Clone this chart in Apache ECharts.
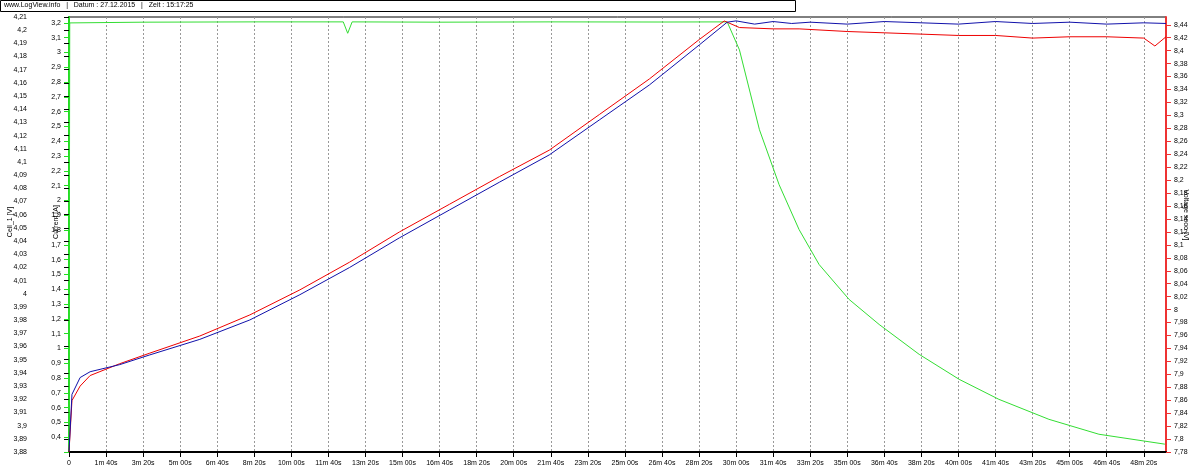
<!DOCTYPE html><html><head><meta charset="utf-8"><script src="https://cdn.jsdelivr.net/npm/echarts@6/dist/echarts.min.js"></script>
<style>body{margin:0}#c{width:1200px;height:470px}</style></head><body><div id="c"></div><script>
const blueT=[0,8,30,57,137,218,353,488,623,757,892,1027,1162,1296,1431,1566,1701,1776,1800,1850,1900,1950,2000,2100,2200,2300,2400,2500,2600,2700,2800,2900,2960];
const blueV=[7.777,7.865,7.891,7.900,7.911,7.926,7.950,7.980,8.019,8.061,8.107,8.150,8.193,8.235,8.289,8.343,8.405,8.440,8.442,8.437,8.441,8.438,8.440,8.437,8.441,8.439,8.437,8.441,8.438,8.440,8.437,8.439,8.438];
const redT=[0,8,30,57,137,218,353,488,623,757,892,1027,1162,1296,1431,1566,1701,1768,1809,1900,1970,2100,2200,2300,2400,2500,2600,2700,2800,2900,2930,2960];
const redV=[3.880,3.919,3.930,3.938,3.947,3.955,3.968,3.984,4.003,4.024,4.047,4.068,4.089,4.109,4.136,4.163,4.193,4.207,4.202,4.201,4.201,4.199,4.198,4.197,4.196,4.196,4.194,4.195,4.195,4.194,4.188,4.195];
const greenT=[0,2,200,500,740,752,764,1000,1300,1600,1776,1809,1863,1916,1970,2024,2105,2186,2294,2402,2509,2644,2779,2957];
const greenI=[0.305,3.2,3.205,3.207,3.207,3.13,3.207,3.205,3.207,3.206,3.207,3.018,2.478,2.107,1.803,1.567,1.331,1.162,0.960,0.791,0.656,0.521,0.420,0.353];
const axisNames=['Cell_1 [V]','Current [A]','Voltage sooo [V]'];
const zip=(a,b)=>a.map((v,i)=>[v,b[i]]);
const fmt=v=>v===0?'0':Math.floor(v/60)+'m '+String(v%60).padStart(2,'0')+'s';
const lbl={fontSize:7,color:'#000',fontFamily:'Liberation Sans'};
const vt=(t,x,y)=>({type:'text',x:x,y:y,rotation:Math.PI/2,z:10,style:{text:t,fontSize:7,fill:'#000',fontFamily:'Liberation Sans',align:'center',verticalAlign:'middle'}});
const c=echarts.init(document.getElementById('c'));
c.setOption({animation:false,
graphic:[{type:'rect',shape:{x:0.5,y:0.5,width:795,height:11},style:{fill:'#fff',stroke:'#000',lineWidth:1}},
{type:'text',x:4,y:2,style:{text:'www.LogView.info   |   Datum : 27.12.2015   |   Zeit : 15:17:25',fontSize:7,fill:'#000',fontFamily:'Liberation Sans'}},
vt(axisNames[0],10,222),vt(axisNames[1],56,222),Object.assign(vt(axisNames[2],1186,215),{rotation:-Math.PI/2})],
grid:{left:69,right:34,top:17,bottom:18,outerBoundsMode:'none',containLabel:false,show:true,borderColor:'#000',borderWidth:1},
xAxis:{type:'value',min:0,max:2960,interval:100,axisLine:{lineStyle:{color:'#000',width:2}},axisTick:{lineStyle:{color:'#000'}},
 axisLabel:{fontSize:7,color:'#000',fontFamily:'Liberation Sans',formatter:v=>fmt(v),showMaxLabel:false},
 splitLine:{show:true,lineStyle:{color:'#999',type:[2,2]}}},
yAxis:[
 {type:'value',min:3.88,max:4.21,interval:0.01,position:'left',offset:34,axisLine:{show:true,lineStyle:{color:'#000',width:2}},axisTick:{show:true},axisLabel:Object.assign({},lbl,{formatter:v=>(+v.toFixed(2)).toString().replace('.',',')}),splitLine:{show:false}},
 {type:'value',min:0.3,max:3.24,interval:0.1,position:'left',axisLine:{show:true,lineStyle:{color:'#2d2',width:2}},axisTick:{show:true,lineStyle:{color:'#2d2'}},axisLabel:Object.assign({},lbl,{formatter:v=>v<0.35?'':(+v.toFixed(1)).toString().replace('.',',')}),splitLine:{show:false}},
 {type:'value',min:7.776,max:8.448,interval:0.02,position:'right',axisLine:{show:true,lineStyle:{color:'#e33',width:2}},axisTick:{show:true,lineStyle:{color:'#e33'}},axisLabel:Object.assign({},lbl,{showMaxLabel:false,formatter:v=>(+v.toFixed(2)).toString().replace('.',',')}),splitLine:{show:false}}],
series:[
 {type:'line',yAxisIndex:1,data:zip(greenT,greenI),showSymbol:false,lineStyle:{color:'#3d3',width:1}},
 {type:'line',yAxisIndex:0,data:zip(redT,redV),showSymbol:false,lineStyle:{color:'#e00',width:1}},
 {type:'line',yAxisIndex:2,data:zip(blueT,blueV),showSymbol:false,lineStyle:{color:'#11a',width:1}}]
});
</script></body></html>
